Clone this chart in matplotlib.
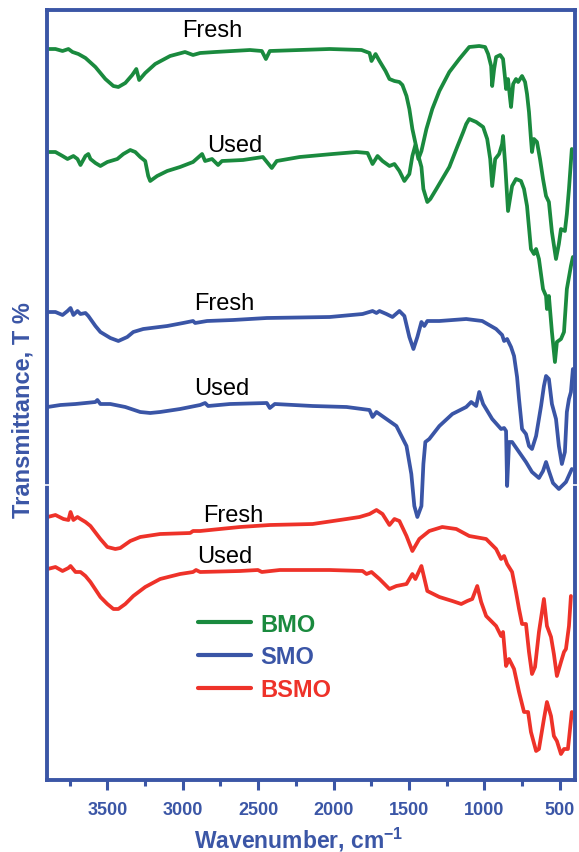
import matplotlib
matplotlib.use('Agg')
import matplotlib.pyplot as plt
from matplotlib.lines import Line2D
from matplotlib.ticker import MultipleLocator

plt.rcParams['font.family'] = ['Liberation Sans', 'DejaVu Sans']
plt.rcParams['mathtext.fontset'] = 'custom'
plt.rcParams['mathtext.rm'] = 'Liberation Sans'
plt.rcParams['mathtext.bf'] = 'Liberation Sans:bold'

# ---------------- data (wavenumber in cm-1, transmittance in offset a.u.) -------------
bmo_fresh_wn = [3896, 3844, 3797, 3758, 3731, 3692, 3645, 3579, 3513, 3460, 3427, 3381, 3335, 3308,
                3289, 3249, 3183, 3084, 2985, 2932, 2885, 2786, 2555, 2476, 2449, 2423, 2225, 2026,
                1815, 1762, 1749, 1722, 1696, 1656, 1630, 1597, 1564, 1544, 1517, 1498, 1478, 1445,
                1418, 1405, 1379, 1359, 1319, 1280, 1233, 1181, 1141, 1121, 1101, 1055, 1009, 982,
                962, 949, 929, 903, 883, 877, 863, 844, 817, 791, 758, 738, 718, 692, 672, 658, 639,
                612, 592, 586, 573, 553, 533, 520, 493, 473, 454, 427, 414]
bmo_fresh_t = [731, 731, 729, 731, 728, 726, 722, 713, 701, 694, 693, 697, 705, 711,
               700, 707, 716, 724, 728, 725, 727, 728, 730, 729, 721, 729, 730, 731,
               730, 727, 719, 726, 719, 709, 701, 699, 698, 695, 684, 671, 651, 628,
               613, 591, 578, 581, 591, 601, 613, 633, 648, 656, 661, 658, 653, 641,
               621, 594, 621, 626, 636, 644, 616, 569, 594, 601, 599, 591, 574, 531, 526, 531, 521,
               491, 484, 471, 484, 448, 418, 438, 441, 448, 491, 514, 523]

bmo_used_wn = [3896, 3844, 3797, 3764, 3725, 3698, 3678, 3645, 3626, 3612, 3579, 3546, 3500, 3434,
               3394, 3348, 3315, 3282, 3249, 3229, 3216, 3170, 3103, 3018, 2932, 2872, 2852, 2806,
               2766, 2740, 2601, 2469, 2410, 2377, 2225, 2007, 1848, 1775, 1742, 1709, 1676, 1630,
               1597, 1564, 1531, 1498, 1478, 1458, 1438, 1418, 1385, 1346, 1299, 1233, 1167, 1101,
               1035, 996, 976, 956, 949, 936, 923, 896, 877, 863, 857, 844, 830, 824, 810, 791, 777,
               751, 731, 718, 705, 692, 685, 672, 652, 632, 612, 592, 573, 553, 526, 507, 493, 467,
               454, 440, 421]
bmo_used_t = [628, 628, 624, 621, 624, 621, 615, 624, 626, 621, 617, 614, 618, 621,
              626, 630, 628, 623, 619, 604, 599, 604, 609, 613, 618, 626, 619, 621,
              615, 619, 620, 623, 612, 619, 623, 626, 628, 627, 616, 624, 619, 614,
              616, 609, 599, 606, 624, 635, 621, 629, 651, 671, 689, 708, 721, 733,
              734, 733, 726, 714, 694, 711, 723, 725, 721, 701, 691, 701, 681, 673, 696, 701, 698,
              704, 698, 686, 668, 641, 628, 641, 638, 621, 601, 584, 578, 548, 521, 536, 551, 549,
              566, 591, 631]

smo_fresh_wn = [3896, 3844, 3797, 3764, 3744, 3725, 3698, 3678, 3645, 3626, 3579, 3546, 3480, 3427,
                3368, 3328, 3262, 3103, 2998, 2932, 2918, 2839, 2667, 2443, 2026, 1808, 1742, 1716,
                1696, 1650, 1610, 1564, 1531, 1498, 1471, 1445, 1418, 1399, 1379, 1299, 1121, 1015,
                923, 883, 870, 850, 824, 804, 784, 771, 751, 725, 705, 685, 658, 625, 606, 592, 573,
                553, 526, 507, 487, 467, 454, 440, 427, 414]
smo_fresh_t = [468, 468, 465, 469, 472, 465, 469, 466, 467, 464, 454, 448, 442, 439,
               443, 448, 451, 454, 457, 459, 457, 459, 460, 462, 463, 466, 469, 467,
               469, 466, 463, 469, 464, 443, 431, 443, 458, 454, 459, 459, 461, 459,
               451, 445, 439, 441, 433, 424, 403, 381, 351, 346, 334, 331, 344, 374, 394, 404, 401,
               376, 361, 334, 316, 328, 368, 381, 388, 411]

smo_used_wn = [3896, 3811, 3711, 3645, 3579, 3566, 3546, 3480, 3381, 3282, 3216, 3150, 3018, 2885,
               2852, 2832, 2687, 2443, 2423, 2390, 2139, 1914, 1762, 1742, 1716, 1650, 1584, 1517,
               1485, 1465, 1445, 1418, 1405, 1392, 1366, 1299, 1213, 1121, 1088, 1055, 1035, 1009,
               949, 890, 870, 857, 850, 837, 817, 771, 725, 685, 639, 612, 592, 573, 546, 507, 460,
               421]
smo_used_t = [373, 375, 376, 377, 378, 380, 376, 376, 373, 368, 367, 368, 371, 375,
              377, 374, 376, 377, 372, 376, 374, 373, 370, 363, 368, 361, 354, 334,
              306, 274, 263, 274, 316, 338, 341, 354, 366, 373, 378, 374, 388, 376,
              361, 351, 352, 349, 294, 338, 338, 328, 318, 308, 302, 309, 318, 309, 297, 291, 298,
              311]

bsmo_fresh_wn = [3896, 3844, 3791, 3758, 3744, 3725, 3698, 3678, 3645, 3612, 3546, 3500, 3447, 3414,
                 3348, 3282, 3150, 2951, 2932, 2885, 2621, 2423, 2139, 1914, 1828, 1762, 1716, 1676,
                 1630, 1597, 1564, 1517, 1478, 1432, 1366, 1280, 1187, 1101, 989, 923, 890, 870, 850,
                 817, 791, 771, 751, 725, 705, 685, 665, 639, 606, 586, 559, 540, 520, 493, 473, 460,
                 440, 427]
bsmo_fresh_t = [263, 265, 261, 260, 268, 260, 263, 261, 258, 254, 241, 233, 231, 232,
                239, 243, 246, 247, 249, 249, 253, 255, 256, 261, 263, 266, 270, 266,
                255, 261, 259, 244, 229, 241, 249, 253, 251, 244, 241, 231, 221, 224, 216,
                208, 188, 171, 156, 156, 128, 106, 113, 148, 181, 154, 143, 126, 104, 118, 128, 131,
                154, 184]

bsmo_used_wn = [3896, 3844, 3797, 3758, 3744, 3711, 3678, 3645, 3612, 3546, 3500, 3460, 3427, 3381,
                3328, 3249, 3150, 3018, 2932, 2912, 2885, 2621, 2502, 2476, 2357, 2026, 1808, 1782,
                1749, 1696, 1630, 1584, 1517, 1478, 1458, 1418, 1379, 1299, 1213, 1154, 1114, 1081,
                1048, 1022, 989, 923, 890, 877, 857, 837, 804, 771, 738, 711, 692, 658, 639, 606, 586,
                559, 540, 520, 493, 473, 447, 421]
bsmo_used_t = [211, 213, 209, 212, 214, 208, 208, 204, 198, 183, 176, 171, 171, 176,
               184, 193, 201, 206, 208, 210, 208, 209, 210, 208, 210, 210, 209, 206,
               208, 201, 191, 194, 196, 206, 201, 214, 189, 183, 179, 176, 179, 181,
               194, 178, 164, 154, 144, 148, 114, 121, 111, 88, 68, 68, 48, 29, 31, 61, 78,
               64, 44, 39, 26, 31, 31, 68]

series_names = ['BMO', 'SMO', 'BSMO']
state_labels = ['Fresh', 'Used']
# label anchor positions (wavenumber, transmittance) for the Fresh/Used annotations
label_wn = [2806, 2654, 2727, 2740, 2667, 2720]
label_t = [744, 629, 471, 386, 259, 218]
xticks_major = [3500, 3000, 2500, 2000, 1500, 1000, 500]

# ---------------- styling ----------------
GREEN = '#1a8a3e'
BLUE = '#3a55a6'
RED = '#ee3229'
AXC = '#3b56a6'

W, H = 579, 853
fig = plt.figure(figsize=(W / 100, H / 100), dpi=100)
ax = fig.add_axes([47 / W, 1 - 781 / H, (575 - 47) / W, (781 - 11) / H])

lw = 2.7
kw = dict(lw=lw, solid_joinstyle='round', solid_capstyle='round')
ax.plot(bmo_fresh_wn, bmo_fresh_t, color=GREEN, label=series_names[0], **kw)
ax.plot(bmo_used_wn, bmo_used_t, color=GREEN, **kw)
ax.plot(smo_fresh_wn, smo_fresh_t, color=BLUE, label=series_names[1], **kw)
ax.plot(smo_used_wn, smo_used_t, color=BLUE, **kw)
ax.plot(bsmo_fresh_wn, bsmo_fresh_t, color=RED, label=series_names[2], **kw)
ax.plot(bsmo_used_wn, bsmo_used_t, color=RED, **kw)

ax.set_xlim(3900, 400)
ax.set_ylim(0, 770)

for i in range(6):
    ax.text(label_wn[i], label_t[i], state_labels[i % 2], ha='center', va='baseline',
            fontsize=17, color='black')

for sp in ax.spines.values():
    sp.set_color(AXC)
    sp.set_linewidth(2.8)

ax.set_yticks([])
ax.set_xticks(xticks_major)
ax.xaxis.set_minor_locator(MultipleLocator(250))
ax.tick_params(axis='x', which='major', direction='out', length=7, width=2.2,
               color=AXC, labelcolor=AXC, labelsize=13, pad=8)
ax.tick_params(axis='x', which='minor', direction='out', length=4, width=2.2, color=AXC)
for lab in ax.get_xticklabels():
    lab.set_fontweight('bold')

ax.set_xlabel(r'Wavenumber, cm$^{\mathbf{-1}}$', fontsize=16.5, fontweight='bold', color=AXC)
ax.xaxis.set_label_coords((299 - 47) / (575 - 47), -(848 - 781) / 770)
ax.xaxis.label.set_va('baseline')
ax.set_ylabel('Transmittance, T %', fontsize=17, fontweight='bold', color=AXC)
ax.yaxis.set_label_coords(-0.023, (781 - 410) / 770)

leg = ax.legend(loc='center left', bbox_to_anchor=(186 / W, 1 - 658 / H),
                bbox_transform=fig.transFigure, frameon=False, borderpad=0,
                handlelength=2.25, handletextpad=0.4, labelspacing=0.42,
                prop={'size': 17, 'weight': 'bold'}, labelcolor='linecolor')
for h in leg.legend_handles:
    h.set_linewidth(3.0)

# small breaks in the frame of the original figure
for xp in (47, 575):
    fig.add_artist(Line2D([(xp - 3) / W, (xp + 3) / W], [1 - 486 / H] * 2,
                          transform=fig.transFigure, color='white', lw=1.2))

fig.savefig('out.png', dpi=100)
